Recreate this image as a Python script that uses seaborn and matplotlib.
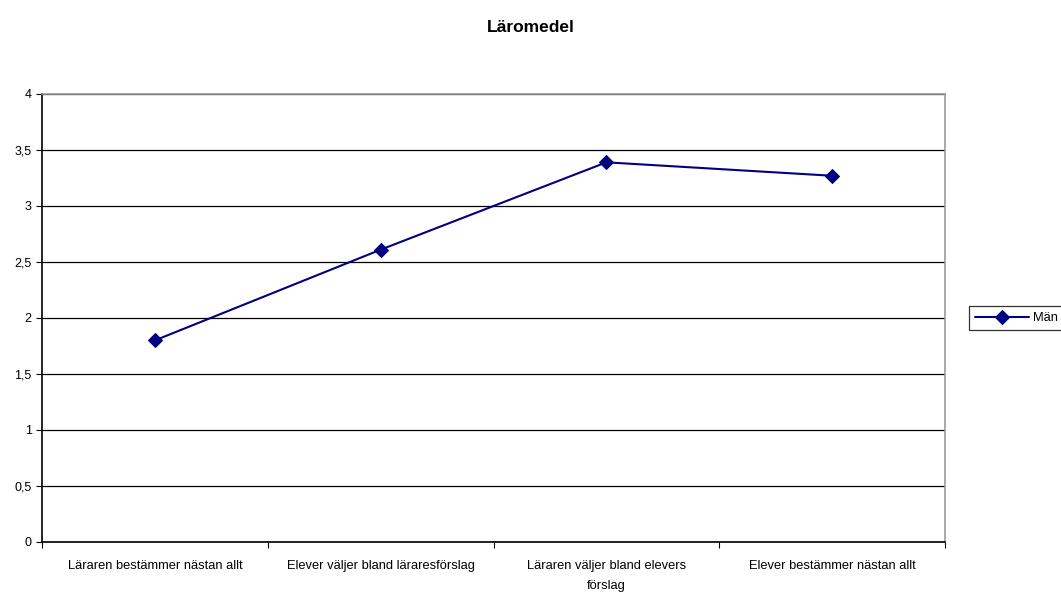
import matplotlib
matplotlib.use("Agg")
import matplotlib.pyplot as plt
import seaborn as sns
import pandas as pd
from matplotlib.ticker import FixedLocator, FuncFormatter

categories = ["Läraren bestämmer nästan allt", "Elever väljer bland läraresförslag",
              "Läraren väljer bland elevers förslag", "Elever bestämmer nästan allt"]
tick_labels = ["Läraren bestämmer nästan allt", "Elever väljer bland läraresförslag",
               "Läraren väljer bland elevers\nförslag", "Elever bestämmer nästan allt"]
values_man = [1.80, 2.61, 3.39, 3.27]
series_name = "Män"
title = "Läromedel"

sns.set_style("white")
plt.rcParams['font.family'] = ['Liberation Sans', 'DejaVu Sans']
plt.rcParams['text.color'] = 'black'
plt.rcParams['xtick.color'] = 'black'
plt.rcParams['ytick.color'] = 'black'

df = pd.DataFrame({"cat": categories, "val": values_man, "serie": series_name})

fig = plt.figure(figsize=(10.61, 5.92), dpi=100)
ax = fig.add_axes([42/1061, 1-542/592, (945-42)/1061, (542-94)/592])

sns.lineplot(data=df, x="cat", y="val", hue="serie", palette=["#000080"], sort=False,
             marker="D", markersize=7, linewidth=1.5, markeredgecolor="#000080", ax=ax, legend=False)

ax.set_xlim(-0.5, len(categories) - 0.5)
ax.set_ylim(0, 4)
ax.set_yticks([i * 0.5 for i in range(9)])
ax.yaxis.set_major_formatter(FuncFormatter(lambda v, p: (f"{v:g}").replace(".", ",")))
ax.yaxis.grid(True, color="black", linewidth=0.9)
ax.set_axisbelow(True)

ax.xaxis.set_major_locator(FixedLocator([i - 0.5 for i in range(len(categories) + 1)]))
ax.xaxis.set_major_formatter(FuncFormatter(lambda v, p: ""))
ax.xaxis.set_minor_locator(FixedLocator(list(range(len(categories)))))
ax.set_xticklabels(tick_labels, minor=True)
ax.tick_params(axis="x", which="minor", length=0, pad=13, labelsize=9.3, labelcolor="black")
ax.tick_params(axis="x", which="major", length=4, width=0.8, color="black", direction="out", bottom=True)
ax.tick_params(axis="y", length=4, width=0.8, color="black", direction="out", left=True,
               labelsize=9, labelcolor="black")
for lbl in ax.get_xticklabels(minor=True):
    lbl.set_linespacing(1.9)

ax.set_xlabel("")
ax.set_ylabel("")
for s in ["left", "bottom"]:
    ax.spines[s].set_color("black")
    ax.spines[s].set_linewidth(1.2)
for s in ["top", "right"]:
    ax.spines[s].set_color("#999999")
    ax.spines[s].set_linewidth(1.2)

fig.text(0.5, 1 - 27/592, title, ha="center", va="center", fontsize=12.5, fontweight="bold",
         color="black")

line = ax.get_lines()[0]
leg = fig.legend([line], [series_name], loc="center left", bbox_to_anchor=(969/1061, 1 - 318/592),
                 frameon=True, fancybox=False, edgecolor="black", fontsize=9.3,
                 handlelength=4.2, borderpad=0.45, handletextpad=0.3, borderaxespad=0)
leg.get_frame().set_linewidth(0.9)
for t in leg.get_texts():
    t.set_color("black")

fig.savefig("out.png", dpi=100)
